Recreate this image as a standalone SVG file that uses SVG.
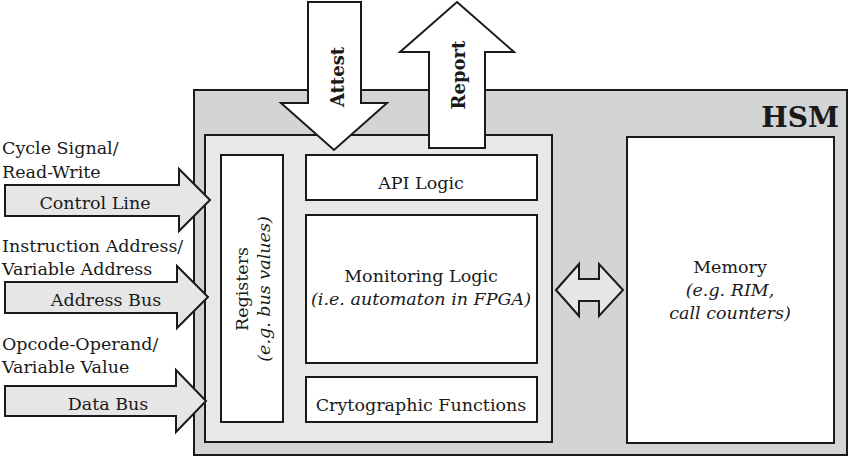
<svg xmlns="http://www.w3.org/2000/svg" width="850" height="458" viewBox="0 0 850 458">
<style>
.ln{stroke:#1a1a1a;stroke-width:2;stroke-linejoin:miter}
.w{fill:#ffffff}
.a{fill:#e6e6e6}
text{font-family:"DejaVu Serif","Liberation Serif",serif;font-size:17.5px;fill:#1a1a1a}
.c{text-anchor:middle}
.i{font-style:italic}
.b{font-weight:bold}
.big{font-size:28px}
.arr{font-size:18px}
</style>
<g id="hsm">
<rect class="ln" x="194" y="90" width="653" height="365" fill="#d3d4d5"/>
<text class="b big" x="839" y="127" text-anchor="end">HSM</text>
</g>
<g id="inner">
<rect class="ln" x="205" y="135" width="347" height="307" fill="#e8e8e9"/>
</g>
<g id="registers">
<rect class="ln w" x="221" y="155" width="62" height="267"/>
<text class="c" transform="translate(248,289) rotate(-90)">Registers</text>
<text class="c i" transform="translate(270,289) rotate(-90)">(e.g. bus values)</text>
</g>
<g id="api">
<rect class="ln w" x="306" y="155" width="231" height="45"/>
<text class="c" x="421" y="189">API Logic</text>
</g>
<g id="monitoring">
<rect class="ln w" x="306" y="215" width="231" height="148"/>
<text class="c" x="421" y="282">Monitoring Logic</text>
<text class="c i" x="421" y="305">(i.e. automaton in FPGA)</text>
</g>
<g id="crypto">
<rect class="ln w" x="306" y="377" width="231" height="45"/>
<text class="c" x="421" y="411">Crytographic Functions</text>
</g>
<g id="memory">
<rect class="ln w" x="627" y="137" width="207" height="306"/>
<text class="c" x="730" y="273">Memory</text>
<text class="c i" x="730" y="296">(e.g. RIM,</text>
<text class="c i" x="730" y="319">call counters)</text>
</g>
<g id="connectors">
<polygon class="ln w" points="308,2 361,2 361,103 387,103 334,150 281,103 308,103"/>
<text class="b arr" transform="translate(344,77) rotate(-90)" text-anchor="middle">Attest</text>
<polygon class="ln w" points="457,2 514,52 485,52 485,148 429,148 429,52 400,52"/>
<text class="b arr" transform="translate(465,75) rotate(-90)" text-anchor="middle">Report</text>
<polygon class="ln a" points="5,185 179,185 179,169 210,200 179,231 179,216 5,216"/>
<polygon class="ln a" points="5,282 177,282 177,266 208,297 177,328 177,313 5,313"/>
<polygon class="ln a" points="5,386 176,386 176,370 206,401 176,432 176,416 5,416"/>
<polygon class="ln a" points="556,290 579,264 579,279 599,279 599,264 623,290 599,316 599,301 579,301 579,316"/>
</g>
<g id="labels">
<text x="2" y="154">Cycle Signal/</text>
<text x="2" y="178">Read-Write</text>
<text class="c" x="95" y="209">Control Line</text>
<text x="2" y="252">Instruction Address/</text>
<text x="2" y="275">Variable Address</text>
<text class="c" x="106" y="306">Address Bus</text>
<text x="2" y="350">Opcode-Operand/</text>
<text x="2" y="373">Variable Value</text>
<text class="c" x="108" y="410">Data Bus</text>
</g>
</svg>
